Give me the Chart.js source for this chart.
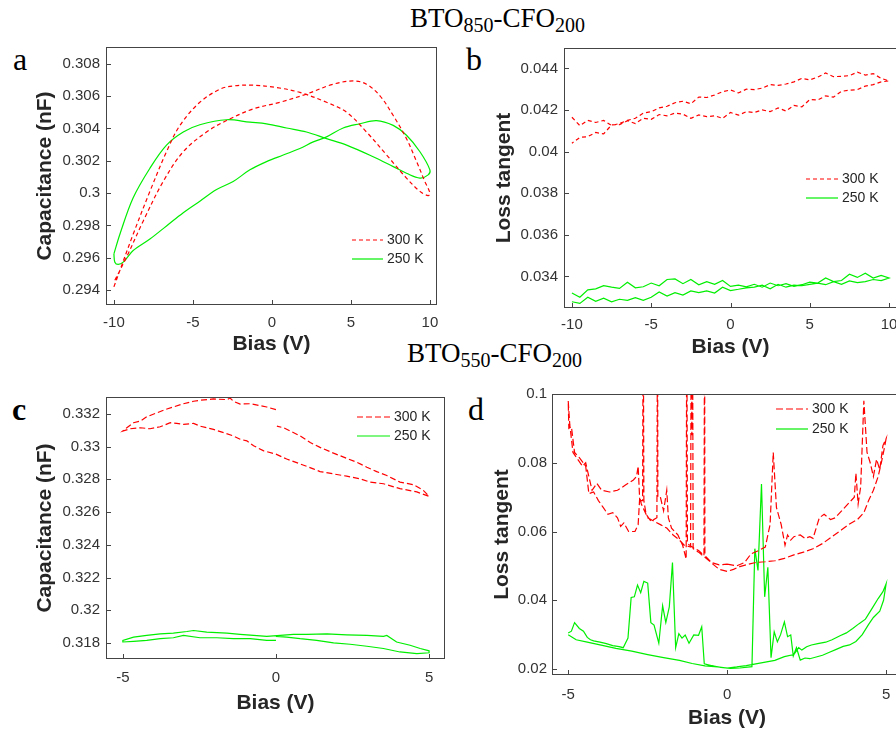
<!DOCTYPE html>
<html>
<head>
<meta charset="utf-8">
<script src="https://cdn.jsdelivr.net/npm/chart.js@4.4.0/dist/chart.umd.min.js"></script>
<style>
  html, body { margin: 0; padding: 0; background: #fff; }
  body { width: 896px; height: 733px; position: relative; overflow: hidden; }
  canvas { position: absolute; }
  .ttl { position: absolute; font-family: 'Liberation Serif', 'Times New Roman', serif; font-size: 27px; line-height: 27px; white-space: nowrap; color: #000; }
  .ttl span { position: relative; top: 5px; font-size: 20px; line-height: 0; }
  .lbl { position: absolute; font-family: 'Liberation Serif', 'Times New Roman', serif; font-size: 32px; line-height: 32px; color: #000; }
</style>
</head>
<body>
<div class="ttl" style="left:410px; top:5px">BTO<span>850</span>-CFO<span>200</span></div>
<div class="ttl" style="left:407px; top:340px">BTO<span>550</span>-CFO<span>200</span></div>
<div class="lbl" style="left:13px; top:43px">a</div>
<div class="lbl" style="left:466px; top:43px">b</div>
<div class="lbl" style="left:12px; top:393px; font-weight:bold">c</div>
<div class="lbl" style="left:468px; top:393px">d</div>
<canvas id="chartA"></canvas>
<canvas id="chartB"></canvas>
<canvas id="chartC"></canvas>
<canvas id="chartD"></canvas>
<script>
// ---- panel a : capacitance loop, BTO850-CFO200 ----
const biasA300 = [-9.94, -9.20, -8.14, -6.88, -5.61, -4.14, -2.87, -1.18, 0.51, 2.19, 3.88, 5.15, 5.99, 6.84, 7.68, 8.52, 9.16, 9.68, 10.0, 9.89, 9.37, 8.52, 7.26, 5.99, 4.73, 3.46, 1.77, 0.30, -1.18, -2.45, -3.29, -4.56, -5.82, -6.67, -7.72, -8.78, -10.0];
const capA300 = [0.29461, 0.29604, 0.29828, 0.30072, 0.30256, 0.30378, 0.30449, 0.30521, 0.30562, 0.30613, 0.30674, 0.30694, 0.30674, 0.30602, 0.30480, 0.30337, 0.30195, 0.30072, 0.30001, 0.29985, 0.30011, 0.30093, 0.30236, 0.30378, 0.30500, 0.30562, 0.30623, 0.30653, 0.30668, 0.30663, 0.30643, 0.30562, 0.30419, 0.30256, 0.30011, 0.29746, 0.29420];
const biasA250 = [-10.0, -9.62, -8.78, -7.72, -6.67, -5.61, -4.56, -2.87, -1.39, -0.34, 0.93, 2.19, 3.46, 4.73, 6.41, 7.68, 8.52, 9.37, 9.89, 10.0, 9.37, 8.52, 7.68, 6.62, 5.57, 4.51, 3.46, 2.62, 1.77, 0.72, -0.34, -1.39, -2.45, -3.50, -4.56, -5.61, -6.67, -7.72, -8.78, -9.41, -9.73, -9.94, -10.0];
const capA250 = [0.29624, 0.29746, 0.29971, 0.30154, 0.30297, 0.30378, 0.30423, 0.30454, 0.30439, 0.30429, 0.30403, 0.30378, 0.30337, 0.30297, 0.30225, 0.30164, 0.30123, 0.30093, 0.30113, 0.30144, 0.30256, 0.30358, 0.30419, 0.30449, 0.30429, 0.30403, 0.30348, 0.30317, 0.30276, 0.30236, 0.30195, 0.30144, 0.30072, 0.30022, 0.29950, 0.29879, 0.29797, 0.29716, 0.29645, 0.29573, 0.29559, 0.29573, 0.29624];
const ticksAx = [-10, -5, 0, 5, 10];
const ticksAy = [0.294, 0.296, 0.298, 0.3, 0.302, 0.304, 0.306, 0.308];

// ---- panel b : loss tangent, BTO850-CFO200 (two branches on the same bias grid) ----
const biasB = [-10, -9.5, -9, -8.5, -8, -7.5, -7, -6.5, -6, -5.5, -5, -4.5, -4, -3.5, -3, -2.5, -2, -1.5, -1, -0.5, 0, 0.5, 1, 1.5, 2, 2.5, 3, 3.5, 4, 4.5, 5, 5.5, 6, 6.5, 7, 7.5, 8, 8.5, 9, 9.5, 10];
const lossB300up = [0.04165, 0.04125, 0.04150, 0.04140, 0.04150, 0.04125, 0.04135, 0.04150, 0.04160, 0.04185, 0.04192, 0.04210, 0.04218, 0.04235, 0.04242, 0.04230, 0.04262, 0.04260, 0.04272, 0.04288, 0.04296, 0.04282, 0.04300, 0.04298, 0.04305, 0.04322, 0.04318, 0.04325, 0.04335, 0.04352, 0.04345, 0.04358, 0.04378, 0.04360, 0.04362, 0.04365, 0.04382, 0.04368, 0.04375, 0.04352, 0.04340];
const lossB300down = [0.04040, 0.04068, 0.04072, 0.04092, 0.04085, 0.04128, 0.04130, 0.04148, 0.04135, 0.04160, 0.04155, 0.04178, 0.04172, 0.04185, 0.04180, 0.04160, 0.04176, 0.04168, 0.04172, 0.04160, 0.04188, 0.04175, 0.04192, 0.04188, 0.04200, 0.04192, 0.04210, 0.04195, 0.04222, 0.04215, 0.04250, 0.04248, 0.04268, 0.04262, 0.04290, 0.04295, 0.04298, 0.04315, 0.04322, 0.04335, 0.04340];
const lossB250up = [0.03320, 0.03300, 0.03335, 0.03340, 0.03355, 0.03348, 0.03342, 0.03372, 0.03345, 0.03350, 0.03368, 0.03355, 0.03385, 0.03388, 0.03365, 0.03385, 0.03360, 0.03375, 0.03362, 0.03380, 0.03352, 0.03358, 0.03350, 0.03362, 0.03348, 0.03368, 0.03355, 0.03365, 0.03352, 0.03360, 0.03372, 0.03368, 0.03392, 0.03375, 0.03380, 0.03410, 0.03395, 0.03415, 0.03392, 0.03405, 0.03392];
const lossB250down = [0.03278, 0.03270, 0.03300, 0.03280, 0.03295, 0.03278, 0.03290, 0.03285, 0.03298, 0.03285, 0.03300, 0.03325, 0.03305, 0.03322, 0.03310, 0.03330, 0.03322, 0.03330, 0.03320, 0.03348, 0.03332, 0.03338, 0.03345, 0.03348, 0.03358, 0.03340, 0.03362, 0.03348, 0.03358, 0.03355, 0.03362, 0.03368, 0.03360, 0.03375, 0.03362, 0.03378, 0.03370, 0.03375, 0.03385, 0.03380, 0.03392];
const ticksBx = [-10, -5, 0, 5, 10];
const ticksBy = [0.034, 0.036, 0.038, 0.04, 0.042, 0.044];

// ---- panel c : capacitance, BTO550-CFO200 ----
const biasC300 = [0.00, -0.30, -0.52, -0.84, -1.17, -1.39, -1.50, -1.60, -2.04, -2.48, -2.69, -3.02, -3.35, -3.56, -3.89, -4.22, -4.43, -4.65, -4.87, -5.00, -4.76, -4.43, -4.11, -3.78, -3.45, -3.24, -3.02, -2.69, -2.48, -2.26, -2.04, -1.71, -1.39, -1.17, -0.95, -0.73, -0.40, 0.00, 0.35, 0.79, 1.22, 1.44, 1.88, 2.31, 2.75, 3.07, 3.51, 4.05, 4.60, 5.00, 4.81, 4.49, 4.05, 3.62, 3.29, 2.97, 2.64, 2.31, 1.88, 1.44, 1.12, 0.79, 0.47, 0.25, 0.03];
const capC300 = [0.33226, 0.33242, 0.33250, 0.33262, 0.33260, 0.33277, 0.33297, 0.33287, 0.33291, 0.33283, 0.33277, 0.33262, 0.33242, 0.33230, 0.33206, 0.33182, 0.33156, 0.33146, 0.33115, 0.33095, 0.33109, 0.33115, 0.33109, 0.33121, 0.33146, 0.33142, 0.33136, 0.33142, 0.33125, 0.33115, 0.33105, 0.33085, 0.33065, 0.33045, 0.33035, 0.33005, 0.32974, 0.32954, 0.32924, 0.32894, 0.32864, 0.32847, 0.32833, 0.32819, 0.32803, 0.32783, 0.32773, 0.32743, 0.32723, 0.32696, 0.32733, 0.32767, 0.32783, 0.32823, 0.32847, 0.32874, 0.32904, 0.32928, 0.32960, 0.32995, 0.33025, 0.33065, 0.33095, 0.33115, 0.33125];
const biasC250 = [0.00, -0.30, -0.84, -1.39, -1.93, -2.48, -3.02, -3.35, -3.78, -4.22, -4.65, -5.00, -5.00, -4.65, -4.22, -3.78, -3.35, -2.91, -2.69, -2.26, -1.60, -1.17, -0.73, -0.30, 0.14, 0.57, 1.01, 1.66, 2.31, 2.97, 3.51, 3.62, 3.94, 4.38, 4.71, 5.00, 5.00, 4.60, 4.05, 3.51, 2.97, 2.42, 1.88, 1.33, 0.79, 0.35, 0.00];
const capC250 = [0.31816, 0.31816, 0.31826, 0.31826, 0.31832, 0.31832, 0.31846, 0.31832, 0.31826, 0.31816, 0.31810, 0.31806, 0.31816, 0.31836, 0.31846, 0.31856, 0.31860, 0.31870, 0.31876, 0.31866, 0.31860, 0.31853, 0.31846, 0.31840, 0.31846, 0.31853, 0.31853, 0.31856, 0.31850, 0.31846, 0.31840, 0.31846, 0.31806, 0.31786, 0.31766, 0.31752, 0.31740, 0.31735, 0.31745, 0.31766, 0.31780, 0.31792, 0.31800, 0.31816, 0.31826, 0.31836, 0.31840];
const ticksCx = [-5, 0, 5];
const ticksCy = [0.318, 0.32, 0.322, 0.324, 0.326, 0.328, 0.33, 0.332];

// ---- panel d : loss tangent, BTO550-CFO200 (spikes run off the top) ----
const biasD300 = [0.00, 0.30, 0.55, 0.75, 1.00, 1.20, 1.35, 1.45, 1.55, 1.70, 1.82, 1.90, 2.00, 2.10, 2.30, 2.45, 2.60, 2.70, 2.90, 3.05, 3.25, 3.40, 3.60, 3.85, 4.00, 4.05, 4.12, 4.20, 4.30, 4.40, 4.50, 4.60, 4.70, 4.80, 4.90, 5.00,
  4.95, 4.85, 4.75, 4.60, 4.45, 4.30, 4.10, 3.85, 3.60, 3.30, 3.00, 2.70, 2.40, 2.10, 1.80, 1.50, 1.20, 0.90, 0.60, 0.40, 0.20, 0.00,
  -0.25, -0.45, -0.60, -0.70, -0.71, -0.73, -0.90, -1.10, -1.25, -1.27, -1.29, -1.40, -1.55, -1.75, -1.85, -1.90, -2.00, -2.10, -2.18, -2.19, -2.21, -2.40, -2.55, -2.62, -2.64, -2.66, -2.75, -2.80, -2.85, -2.95, -3.20, -3.45, -3.70, -3.95, -4.10, -4.25, -4.35, -4.45, -4.55, -4.70, -4.85, -4.95, -5.00,
  -4.98, -4.90, -4.80, -4.65, -4.45, -4.35, -4.20, -4.05, -3.90, -3.75, -3.60, -3.45, -3.35, -3.25, -3.10, -2.90, -2.80, -2.75, -2.70, -2.60, -2.50, -2.30, -2.10, -1.90, -1.70, -1.50, -1.35, -1.15, -1.13, -1.11, -1.09, -1.07, -0.90, -0.70, -0.50, -0.25, 0.00];
const lossD300 = [0.0505, 0.0500, 0.0510, 0.0535, 0.0545, 0.0555, 0.0620, 0.0830, 0.0670, 0.0620, 0.0560, 0.0590, 0.0575, 0.0585, 0.0590, 0.0580, 0.0585, 0.0580, 0.0640, 0.0650, 0.0635, 0.0640, 0.0660, 0.0685, 0.0700, 0.0770, 0.0680, 0.0730, 0.0980, 0.0830, 0.0800, 0.0760, 0.0810, 0.0780, 0.0850, 0.0870,
  0.0845, 0.0800, 0.0760, 0.0720, 0.0690, 0.0655, 0.0635, 0.0622, 0.0605, 0.0585, 0.0565, 0.0550, 0.0540, 0.0532, 0.0522, 0.0515, 0.0512, 0.0510, 0.0503, 0.0498, 0.0490, 0.0484,
  0.0490, 0.0505, 0.0520, 0.0530, 0.1300, 0.0530, 0.0545, 0.0555, 0.0565, 0.1300, 0.0520, 0.0560, 0.0590, 0.0610, 0.0640, 0.0720, 0.0660, 0.0700, 0.0700, 0.1300, 0.0640, 0.0630, 0.0650, 0.0690, 0.1300, 0.0690, 0.0690, 0.0790, 0.0760, 0.0750, 0.0735, 0.0720, 0.0715, 0.0720, 0.0740, 0.0720, 0.0760, 0.0800, 0.0790, 0.0810, 0.0830, 0.0910, 0.0980,
  0.0900, 0.0905, 0.0830, 0.0815, 0.0790, 0.0710, 0.0715, 0.0690, 0.0670, 0.0650, 0.0655, 0.0640, 0.0615, 0.0625, 0.0600, 0.0600, 0.0620, 0.0700, 0.0680, 0.0660, 0.0640, 0.0630, 0.0620, 0.0610, 0.0590, 0.0575, 0.0560, 0.0555, 0.1300, 0.0880, 0.1300, 0.0550, 0.0540, 0.0525, 0.0510, 0.0503, 0.0505];
const biasD250 = [-5.00, -4.90, -4.80, -4.65, -4.52, -4.40, -4.30, -4.20, -4.00, -3.80, -3.60, -3.40, -3.27, -3.12, -3.02, -2.92, -2.82, -2.72, -2.62, -2.50, -2.40, -2.30, -2.15, -2.03, -1.93, -1.82, -1.72, -1.62, -1.52, -1.42, -1.32, -1.20, -1.05, -0.90, -0.80, -0.72, -0.50, -0.20, 0.10, 0.40, 0.78, 0.87, 0.97, 1.08, 1.18, 1.28, 1.38, 1.48, 1.58, 1.68, 1.80, 1.90, 2.00, 2.08, 2.18, 2.30, 2.45, 2.60, 2.80, 3.00, 3.20, 3.45, 3.65, 3.85, 4.05, 4.25, 4.45, 4.60, 4.80, 4.92, 5.00, 4.90, 4.75, 4.55, 4.35, 4.15, 3.95, 3.75, 3.55, 3.30, 3.10, 2.85, 2.65, 2.50, 2.35, 2.25, 2.10, 1.80, 1.50, 1.20, 0.90, 0.60, 0.30, 0.00, -0.30, -0.70, -1.10, -1.50, -2.00, -2.50, -3.00, -3.50, -4.00, -4.40, -4.75, -5.00];
const lossD250 = [0.0305, 0.0310, 0.0335, 0.0318, 0.0310, 0.0292, 0.0285, 0.0282, 0.0278, 0.0274, 0.0268, 0.0265, 0.0262, 0.0290, 0.0408, 0.0410, 0.0444, 0.0422, 0.0455, 0.0450, 0.0335, 0.0328, 0.0275, 0.0384, 0.0335, 0.0381, 0.0510, 0.0262, 0.0303, 0.0290, 0.0299, 0.0275, 0.0299, 0.0298, 0.0323, 0.0215, 0.0210, 0.0205, 0.0202, 0.0203, 0.0207, 0.0550, 0.0487, 0.0738, 0.0410, 0.0496, 0.0233, 0.0308, 0.0279, 0.0300, 0.0337, 0.0294, 0.0299, 0.0238, 0.0262, 0.0226, 0.0232, 0.0230, 0.0235, 0.0240, 0.0248, 0.0258, 0.0266, 0.0270, 0.0280, 0.0300, 0.0330, 0.0350, 0.0368, 0.0400, 0.0448, 0.0425, 0.0405, 0.0375, 0.0345, 0.0332, 0.0318, 0.0305, 0.0297, 0.0285, 0.0278, 0.0274, 0.0270, 0.0265, 0.0255, 0.0262, 0.0242, 0.0236, 0.0225, 0.0220, 0.0215, 0.0210, 0.0206, 0.0203, 0.0206, 0.0209, 0.0216, 0.0225, 0.0233, 0.0242, 0.0252, 0.0260, 0.0270, 0.0278, 0.0285, 0.0300];
const ticksDx = [-5, 0, 5];
const ticksDy = [0.02, 0.04, 0.06, 0.08, 0.1];

const SANS = "'Liberation Sans', Arial, sans-serif";
const RED = '#ff0000';
const GREEN = '#00ee00';

const pts = (xs, ys) => xs.map((v, i) => ({ x: v, y: ys[i] }));

function series(label, xs, ys, color, dash, tension) {
    return {
        label: label,
        data: pts(xs, ys),
        showLine: true,
        borderColor: color,
        borderWidth: 1.2,
        borderDash: dash,
        pointRadius: 0,
        tension: tension || 0,
    };
}

// box round the plot, inward ticks (MATLAB style) and the legend
const frame = {
    id: 'frame',
    afterDatasetsDraw(chart, args, opts) {
        const { ctx, chartArea: a, scales: { x, y } } = chart;
        ctx.save();
        ctx.strokeStyle = '#444';
        ctx.lineWidth = 1;
        ctx.setLineDash([]);
        ctx.strokeRect(Math.round(a.left) + 0.5, Math.round(a.top) + 0.5, Math.round(a.width) - 1, Math.round(a.height) - 1);
        ctx.beginPath();
        x.ticks.forEach((t) => {
            const px = Math.round(x.getPixelForValue(t.value)) + 0.5;
            ctx.moveTo(px, a.bottom);
            ctx.lineTo(px, a.bottom - 5);
        });
        y.ticks.forEach((t) => {
            const py = Math.round(y.getPixelForValue(t.value)) + 0.5;
            ctx.moveTo(a.left, py);
            ctx.lineTo(a.left + 5, py);
        });
        ctx.stroke();

        const L = opts.legend;
        chart.data.datasets.forEach((ds, i) => {
            const xx = L.x - opts.ox;
            const yy = L.y + i * L.row - opts.oy;
            ctx.strokeStyle = ds.borderColor;
            ctx.lineWidth = ds.borderWidth;
            ctx.setLineDash(ds.borderDash || []);
            ctx.beginPath();
            ctx.moveTo(xx, yy);
            ctx.lineTo(xx + L.len, yy);
            ctx.stroke();
            ctx.setLineDash([]);
            ctx.fillStyle = '#262626';
            ctx.font = `14px ${SANS}`;
            ctx.textAlign = 'left';
            ctx.textBaseline = 'middle';
            ctx.fillText(ds.label, xx + L.len + 4, yy);
        });
        ctx.restore();
    },
};

function axis(min, max, tickVals, title, pad, size, horizontal) {
    return {
        type: 'linear',
        min: min,
        max: max,
        afterBuildTicks: (s) => { s.ticks = tickVals.map((v) => ({ value: v })); },
        afterFit: (s) => { if (horizontal) s.height = size; else s.width = size; },
        grid: { display: false, drawTicks: false },
        border: { display: false },
        ticks: {
            padding: pad,
            autoSkip: false,
            maxRotation: 0,
            color: '#333',
            font: { family: SANS, size: 15 },
            callback: (v) => String(+Number(v).toFixed(4)),
        },
        title: {
            display: true,
            text: title,
            color: '#262626',
            font: { family: SANS, size: 21, weight: 'bold' },
            padding: { top: 4, bottom: 4 },
        },
    };
}

function panel(id, pos, p) {
    const cv = document.getElementById(id);
    cv.width = pos.w;
    cv.height = pos.h;
    cv.style.left = pos.left + 'px';
    cv.style.top = pos.top + 'px';
    return new Chart(cv, {
        type: 'scatter',
        data: { datasets: p.datasets },
        options: {
            responsive: false,
            animation: false,
            devicePixelRatio: 1,
            layout: { padding: { left: 0, top: 12, right: 12, bottom: 0 } },
            plugins: {
                legend: { display: false },
                tooltip: { enabled: false },
                frame: { legend: p.legend, ox: pos.left, oy: pos.top },
            },
            scales: {
                x: axis(p.xmin, p.xmax, p.xt, 'Bias (V)', p.xpad, p.xh, true),
                y: axis(p.ymin, p.ymax, p.yt, p.ytitle, p.ypad, p.yw, false),
            },
        },
        plugins: [frame],
    });
}

panel('chartA', { left: 29, top: 32, w: 420, h: 329 }, {
    datasets: [
        series('300 K', biasA300, capA300, RED, [4, 3], 0.35),
        series('250 K', biasA250, capA250, GREEN, [], 0.35),
    ],
    xmin: -10.5, xmax: 10.45, xt: ticksAx, xpad: 9, xh: 56,
    ymin: 0.29308, ymax: 0.30904, yt: ticksAy, ypad: 6, yw: 77, ytitle: 'Capacitance (nF)',
    legend: { x: 352, y: 240, row: 19, len: 31 },
});

panel('chartB', { left: 488, top: 33, w: 421, h: 331 }, {
    datasets: [
        series('300 K', [...biasB, ...biasB.slice().reverse()], [...lossB300up, ...lossB300down.slice().reverse()], RED, [4, 3]),
        series('250 K', [...biasB, ...biasB.slice().reverse()], [...lossB250up, ...lossB250down.slice().reverse()], GREEN, []),
    ],
    xmin: -10.5, xmax: 10.5, xt: ticksBx, xpad: 8, xh: 56,
    ymin: 0.03248, ymax: 0.04498, yt: ticksBy, ypad: 6, yw: 76, ytitle: 'Loss tangent',
    legend: { x: 806, y: 179, row: 19, len: 32 },
});

panel('chartC', { left: 29, top: 382, w: 428, h: 338 }, {
    datasets: [
        series('300 K', biasC300, capC300, RED, [6, 3]),
        series('250 K', biasC250, capC250, GREEN, []),
    ],
    xmin: -5.55, xmax: 5.52, xt: ticksCx, xpad: 10, xh: 61,
    ymin: 0.31702, ymax: 0.33303, yt: ticksCy, ypad: 6, yw: 77, ytitle: 'Capacitance (nF)',
    legend: { x: 357, y: 417, row: 19, len: 33 },
});

panel('chartD', { left: 486, top: 380, w: 428, h: 355 }, {
    datasets: [
        series('300 K', biasD300, lossD300, RED, [7, 3]),
        series('250 K', biasD250, lossD250, GREEN, []),
    ],
    xmin: -5.51, xmax: 5.5, xt: ticksDx, xpad: 11, xh: 60,
    ymin: 0.01826, ymax: 0.1, yt: ticksDy, ypad: 5, yw: 66, ytitle: 'Loss tangent',
    legend: { x: 776, y: 409, row: 20, len: 32 },
});
</script>
</body>
</html>
